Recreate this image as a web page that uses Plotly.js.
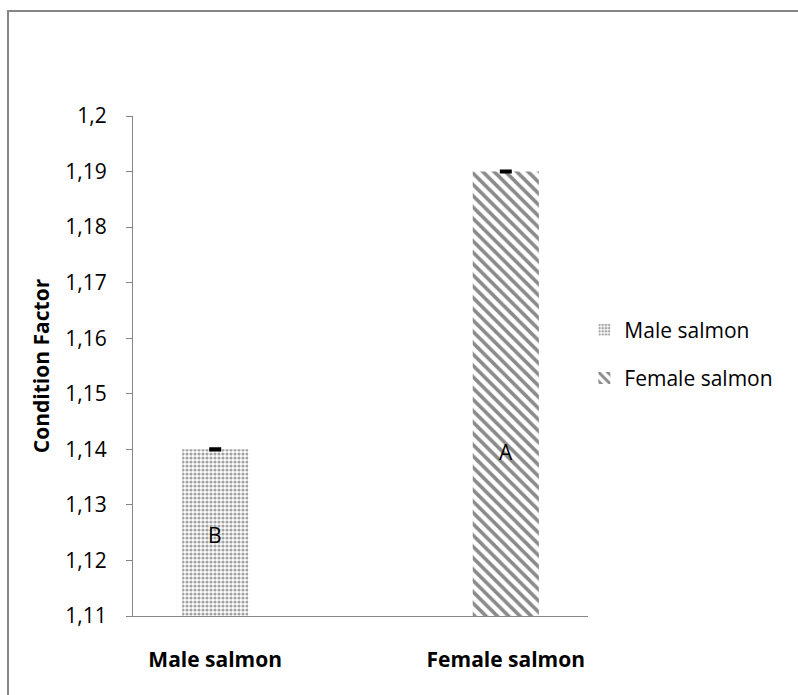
<!DOCTYPE html>
<html>
<head>
<meta charset="utf-8">
<script src="https://cdn.plot.ly/plotly-3.0.1.min.js"></script>
<style>
  html, body { margin: 0; padding: 0; background: #ffffff; }
  #chart { width: 798px; height: 695px; }
</style>
</head>
<body>
<div id="chart"></div>
<script>
// ---- data ----
const categories = ['Male salmon', 'Female salmon'];
const seriesNames = ['Male salmon', 'Female salmon'];
const values = [1.14, 1.19];
const errors = [0.0001, 0.0001];
const letters = ['B', 'A'];
const letterY = [1.1246, 1.1395];

const FONT = '"Open Sans", "Noto Sans", sans-serif';
const GREY = '#868686';

const patterns = [
  { shape: '.', fgcolor: '#a3a3a3', bgcolor: '#ffffff', size: 4, solidity: 0.5 },
  { shape: '\\', fgcolor: '#8a8a8a', bgcolor: '#ffffff', size: 8, solidity: 0.45 }
];

const traces = categories.map((c, i) => ({
  type: 'bar',
  name: seriesNames[i],
  legendgroup: 'g' + i,
  x: [c],
  y: [values[i]],
  width: 0.2276,
  marker: { color: '#ffffff', pattern: patterns[i], line: { width: 0 } },
  error_y: { type: 'data', array: [errors[i]], visible: true, color: '#000000', thickness: 3, width: 6 },
  hoverinfo: 'skip'
}));

const annotations = categories.map((c, i) => ({
  x: c, y: letterY[i], xref: 'x', yref: 'y',
  text: letters[i], showarrow: false,
  font: { family: FONT, size: 21, color: '#000000' }
}));

const layout = {
  width: 798,
  height: 695,
  paper_bgcolor: '#ffffff',
  plot_bgcolor: 'rgba(0,0,0,0)',
  separators: ', ',
  margin: { l: 133, r: 210, t: 116, b: 79 },
  barmode: 'overlay',
  font: { family: FONT, size: 21, color: '#000000' },
  showlegend: true,
  legend: {
    x: 0.992, xanchor: 'left', y: 0.524, yanchor: 'middle',
    font: { family: FONT, size: 21, color: '#000000' },
    tracegroupgap: 18,
    bgcolor: 'rgba(0,0,0,0)'
  },
  xaxis: {
    type: 'category',
    range: [-0.2828, 1.2828],
    showline: true, linecolor: GREY, linewidth: 1,
    ticks: '', showgrid: false, zeroline: false,
    tickfont: { family: FONT, size: 21, color: '#000000', weight: 'bold' },
    ticklabelstandoff: 25
  },
  yaxis: {
    range: [1.11, 1.2],
    dtick: 0.01, tick0: 1.11,
    showline: true, linecolor: GREY, linewidth: 1,
    ticks: 'outside', ticklen: 6, tickcolor: GREY, tickwidth: 1,
    showgrid: false, zeroline: false,
    tickfont: { family: FONT, size: 21, color: '#000000' },
    ticklabelstandoff: 15,
    title: { text: 'Condition Factor', font: { family: FONT, size: 21, color: '#000000', weight: 'bold' }, standoff: 9 }
  },
  annotations: annotations,
  shapes: [{
    type: 'rect', xref: 'paper', yref: 'paper', layer: 'below',
    x0: -0.2747, x1: 2.5, y0: -1, y1: 1.2098,
    line: { color: GREY, width: 2 }, fillcolor: 'rgba(0,0,0,0)'
  }]
};

Plotly.newPlot('chart', traces, layout, { displayModeBar: false, staticPlot: true });
</script>
</body>
</html>
